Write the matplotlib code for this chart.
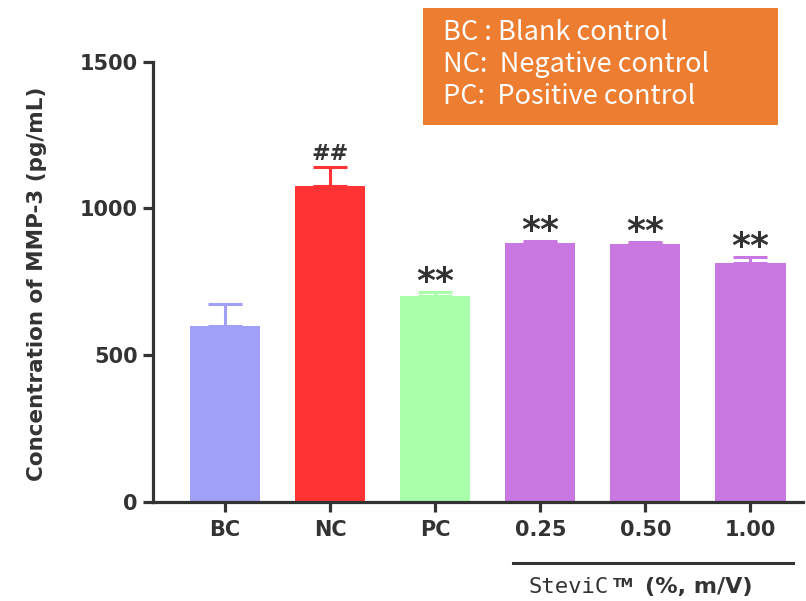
import matplotlib
matplotlib.use("Agg")
import matplotlib.pyplot as plt
import numpy as np
from matplotlib.patches import Rectangle
from matplotlib.lines import Line2D

categories = ["BC", "NC", "PC", "0.25", "0.50", "1.00"]
means = [600, 1075, 702, 881, 878, 813]
errors = [75, 65, 12, 8, 6, 20]
colors = ["#a0a0f8", "#ff3333", "#aaffaa", "#c878e0", "#c878e0", "#c878e0"]
marks = ["", "##", "**", "**", "**", "**"]
yticks = [0, 500, 1000, 1500]
legend_lines = ["BC : Blank control", "NC:  Negative control", "PC:  Positive control"]

W, H = 806, 601
fig = plt.figure(figsize=(W / 100, H / 100), dpi=100)
ax = fig.add_axes([153 / W, 1 - 501.7 / H, (803 - 153) / W, 440 / H])

x = np.arange(len(categories))
ax.bar(x, means, width=0.667, color=colors, zorder=2)
for xi, m, e, c in zip(x, means, errors, colors):
    ax.errorbar(xi, m, yerr=[[0], [e]], color=c, capsize=12.5, elinewidth=2.2,
                capthick=2.2, fmt="none", zorder=1)

dark = "#333333"
for xi, m, e, s in zip(x, means, errors, marks):
    if not s:
        continue
    if s == "##":
        ax.annotate(s, xy=(xi, m + e), xytext=(0, 5), textcoords="offset points",
                    ha="center", va="baseline", fontsize=16, fontweight="bold", color=dark)
    else:
        ax.annotate(s, xy=(xi, m + e), xytext=(0, 0), textcoords="offset points",
                    ha="center", va="baseline", fontsize=26, fontweight="bold", color=dark)

ax.set_xlim(-0.686, 5.5)
ax.set_ylim(0, 1500)
ax.set_yticks(yticks)
ax.set_xticks(x)
ax.set_xticklabels(categories)
for sp in ["top", "right"]:
    ax.spines[sp].set_visible(False)
for sp in ["left", "bottom"]:
    ax.spines[sp].set_linewidth(2.3)
    ax.spines[sp].set_color(dark)
ax.tick_params(axis="both", length=7, width=2.3, color=dark, labelcolor=dark,
               labelsize=15, pad=4)
ax.tick_params(axis="x", pad=6)
for lab in ax.get_xticklabels() + ax.get_yticklabels():
    lab.set_fontweight("bold")

fig.text(37 / W, 1 - 284 / H, "Concentration of MMP-3 (pg/mL)", rotation=90,
         ha="center", va="center", fontsize=15.5, fontweight="bold", color=dark)

# group line and label under dose bars
fig.add_artist(Line2D([513 / W, 793 / W], [1 - 563 / H, 1 - 563 / H],
                      color=dark, linewidth=2.2, transform=fig.transFigure))
fig.text(529 / W, 1 - 593 / H, "SteviC", ha="left", va="baseline",
         fontsize=16, family="DejaVu Sans Mono", color=dark)
fig.text(613 / W, 1 - 577 / H, "TM", ha="left", va="top",
         fontsize=9, fontweight="bold", color=dark)
fig.text(645 / W, 1 - 593 / H, "(%, m/V)", ha="left", va="baseline",
         fontsize=16, fontweight="bold", color=dark)

# orange legend box
fig.add_artist(Rectangle((423 / W, 1 - 125 / H), (778 - 423) / W, (125 - 8) / H,
                         facecolor="#ed7d31", edgecolor="none", transform=fig.transFigure))
for i, line in enumerate(legend_lines):
    fig.text(443 / W, 1 - (33 + 32 * i) / H, line, ha="left", va="center",
             fontsize=19.5, family=["Noto Sans CJK SC", "DejaVu Sans"], color="white")

fig.savefig("out.png", dpi=100)
